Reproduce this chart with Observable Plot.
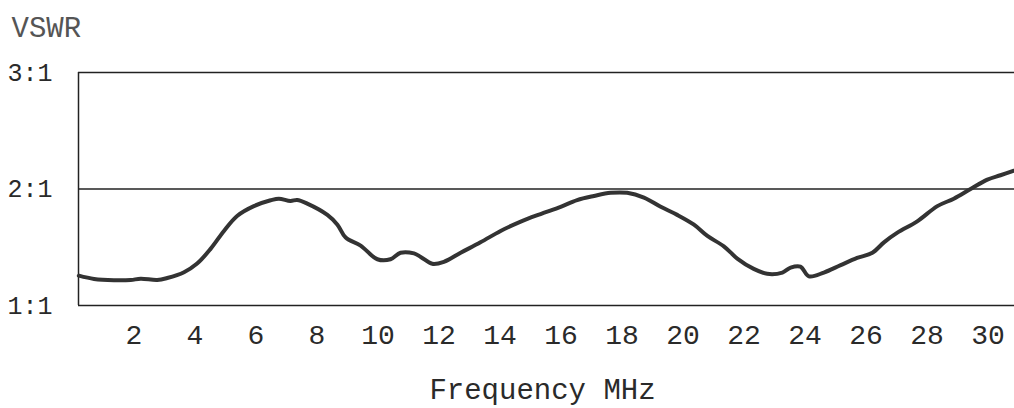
<!DOCTYPE html>
<html><head><meta charset="utf-8">
<script src="https://cdn.jsdelivr.net/npm/d3@7"></script>
<script src="https://cdn.jsdelivr.net/npm/@observablehq/plot@0.6"></script>
<style>body{margin:0;background:#fff}</style>
</head><body><div id="chart"></div>
<script>
const freq = [0.19,0.69,1.34,1.89,2.22,2.76,3.09,3.64,4.07,4.51,4.95,5.39,5.93,6.48,6.75,7.13,7.35,7.68,8.34,8.67,8.94,9.43,9.98,10.41,10.74,11.18,11.4,11.78,12.16,12.71,13.36,14.02,14.68,15.33,15.99,16.53,17.08,17.63,18.17,18.72,19.27,19.81,20.36,20.8,21.34,21.78,22.32,22.76,23.26,23.53,23.85,24.13,24.62,25.17,25.71,26.21,26.59,27.03,27.68,28.34,28.88,29.43,29.98,30.41,30.85];
const vswr = [1.256,1.228,1.217,1.219,1.23,1.219,1.236,1.286,1.36,1.486,1.64,1.77,1.853,1.903,1.917,1.897,1.906,1.875,1.778,1.694,1.583,1.514,1.397,1.397,1.453,1.447,1.417,1.358,1.375,1.453,1.542,1.64,1.72,1.785,1.847,1.905,1.94,1.967,1.967,1.926,1.847,1.778,1.694,1.597,1.508,1.403,1.314,1.272,1.283,1.325,1.333,1.25,1.283,1.347,1.408,1.453,1.542,1.625,1.722,1.853,1.917,2.0,2.08,2.118,2.157];
const xTicks = [2,4,6,8,10,12,14,16,18,20,22,24,26,28,30];
const yTicks = [1,2,3];
const yTickLabels = ["1:1","2:1","3:1"];
const xDomain = [0.18, 30.87];
const yDomain = [1, 3];
const xLabel = "Frequency MHz";
const yLabel = "VSWR";

const data = freq.map((f, i) => ({f, v: vswr[i]}));
const ink = "#222";
const chart = Plot.plot({
  width: 1014, height: 408,
  marginLeft: 78, marginRight: 0, marginTop: 72, marginBottom: 103,
  style: {fontFamily: "'Liberation Mono', monospace", background: "#fff", color: ink},
  x: {domain: xDomain},
  y: {domain: yDomain},
  marks: [
    Plot.ruleY(yTicks, {stroke: ink, strokeWidth: 1.5}),
    Plot.ruleX([xDomain[0]], {y1: yDomain[0], y2: yDomain[1], stroke: ink, strokeWidth: 1.5}),
    Plot.axisX({ticks: xTicks, tickSize: 0, tickPadding: 19, fontSize: 28, label: null, fill: "#2a2a2a"}),
    Plot.axisY({ticks: yTicks, tickFormat: d => yTickLabels[yTicks.indexOf(d)], tickSize: 0, tickPadding: 26, fontSize: 25, label: null, fill: "#2a2a2a"}),
    Plot.line(data, {x: "f", y: "v", stroke: "#333", strokeWidth: 4, curve: "catmull-rom", strokeLinejoin: "round", strokeLinecap: "round"}),
    Plot.text([xLabel], {frameAnchor: "bottom", lineAnchor: "middle", dx: -4, dy: 84, fontSize: 29, fill: "#2a2a2a"}),
    Plot.text([yLabel], {frameAnchor: "top-left", lineAnchor: "middle", dx: -67, dy: -45, textAnchor: "start", fontSize: 29, fill: "#555"})
  ]
});
document.getElementById("chart").appendChild(chart);
</script>
</body></html>
